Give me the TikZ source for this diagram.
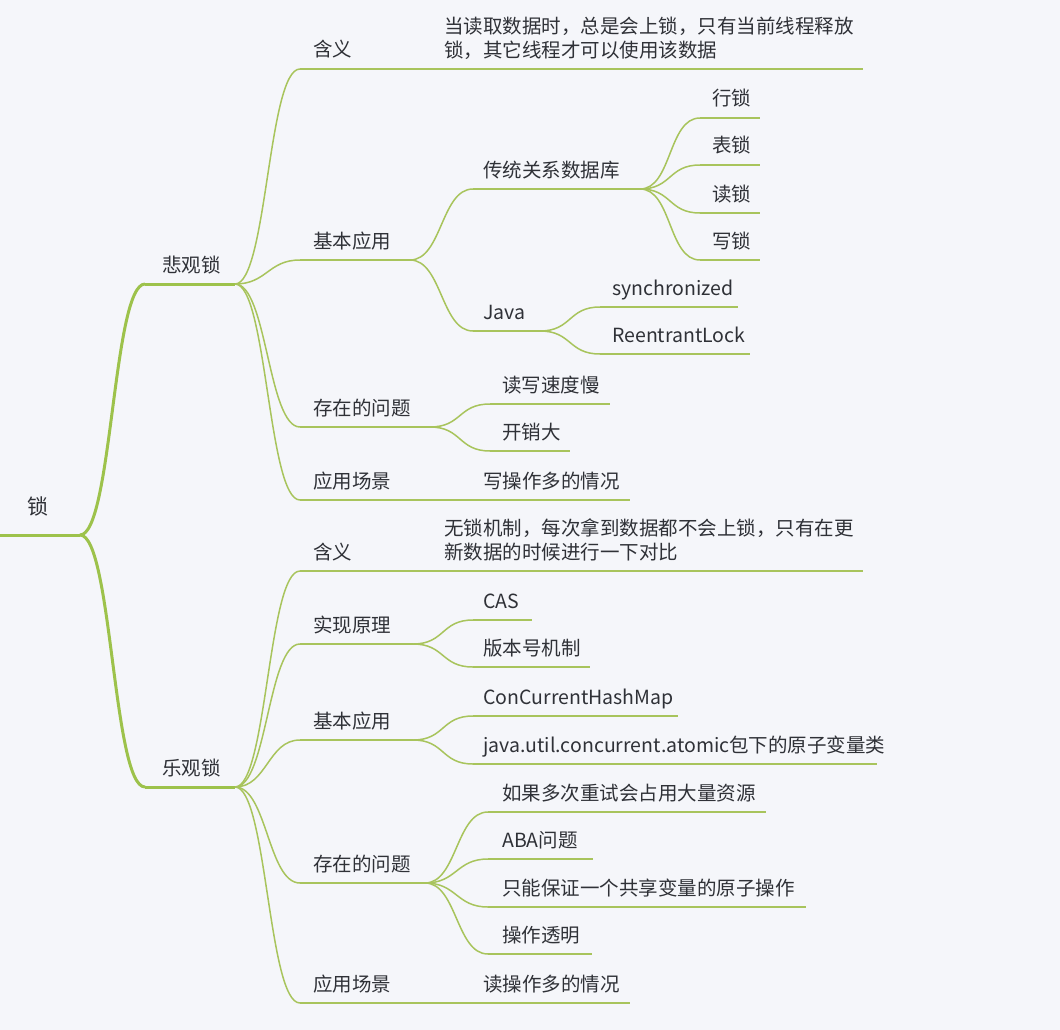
\documentclass[tikz,border=0pt]{standalone}
\usepackage{fontspec}
\setmainfont{Noto Sans CJK SC}
\definecolor{bg}{HTML}{F5F6FA}
\definecolor{ln}{HTML}{A8C45C}
\definecolor{lnb}{HTML}{9DC24B}
\definecolor{tx}{HTML}{2F3137}
\tikzset{
  lbl/.style={anchor=base west, inner sep=0pt, text=tx, font=\fontsize{19.5}{24}\selectfont},
  lbltwo/.style={anchor=west, inner sep=0pt, text=tx, align=left, font=\fontsize{19.5}{24}\selectfont},
  ul/.style={draw=ln, line width=1.5pt},
  ulb/.style={draw=lnb, line width=3pt},
}
\newcommand\topic[6]{%
  \coordinate (#1s) at (#2,#4);
  \coordinate (#1e) at (#3,#4);
  \draw[ul] (#1s) -- (#1e);
  \node[lbl] (#1) at (#5,#4-12) {#6};
}
\newcommand\conn[2]{\draw[ul] (#1e) .. controls +(32,0) and +(-32,0) .. (#2s);}
\newcommand\connb[2]{\draw[ulb] (#1e) .. controls +(32,0) and +(-32,0) .. (#2s);}
\begin{document}
\begin{tikzpicture}[x=1pt,y=-1pt]
\fill[bg] (0,0) rectangle (1060,1030);
\useasboundingbox (0,0) rectangle (1060,1030);

% root
\coordinate (Rs) at (0,535);
\coordinate (Re) at (80,535);
\draw[ulb] (Rs) -- (Re);
\node[lbl, font=\fontsize{21}{24}\selectfont] (R) at (27,514) {锁};

% level 1
\coordinate (As) at (145,284); \coordinate (Ae) at (235,284);
\draw[ulb] (As) -- (Ae);
\node[lbl] (A) at (162,272) {悲观锁};
\coordinate (Bs) at (145,787); \coordinate (Be) at (235,787);
\draw[ulb] (Bs) -- (Be);
\node[lbl] (B) at (162,775) {乐观锁};
\connb{R}{A}
\connb{R}{B}

% ---- 悲观锁 ----
\topic{A1}{300}{433}{69}{313}{含义}
\coordinate (A1as) at (433,69); \coordinate (A1ae) at (863,69);
\draw[ul] (A1as) -- (A1ae);
\node[lbltwo] (A1a) at (444,38) {当读取数据时，总是会上锁，只有当前线程释放\\锁，其它线程才可以使用该数据};
\conn{A}{A1}
\conn{A1}{A1a}

\topic{A2}{300}{410}{260}{313}{基本应用}
\conn{A}{A2}
\topic{A2a}{473}{640}{189}{483}{传统关系数据库}
\conn{A2}{A2a}
\topic{A2a1}{700}{760}{118}{712}{行锁}
\topic{A2a2}{700}{760}{165}{712}{表锁}
\topic{A2a3}{700}{760}{213}{712}{读锁}
\topic{A2a4}{700}{760}{260}{712}{写锁}
\conn{A2a}{A2a1}
\conn{A2a}{A2a2}
\conn{A2a}{A2a3}
\conn{A2a}{A2a4}
\topic{A2b}{473}{540}{331}{483}{Java}
\conn{A2}{A2b}
\topic{A2b1}{600}{738}{307}{612}{synchronized}
\topic{A2b2}{600}{750}{354}{612}{ReentrantLock}
\conn{A2b}{A2b1}
\conn{A2b}{A2b2}

\topic{A3}{300}{430}{427}{313}{存在的问题}
\conn{A}{A3}
\topic{A3a}{490}{610}{404}{502}{读写速度慢}
\topic{A3b}{490}{570}{451}{502}{开销大}
\conn{A3}{A3a}
\conn{A3}{A3b}

\topic{A4}{300}{470}{500}{313}{应用场景}
\conn{A}{A4}
\topic{A4a}{470}{630}{500}{483}{写操作多的情况}
\conn{A4}{A4a}

% ---- 乐观锁 ----
\topic{B1}{300}{433}{571}{313}{含义}
\coordinate (B1as) at (433,571); \coordinate (B1ae) at (863,571);
\draw[ul] (B1as) -- (B1ae);
\node[lbltwo] (B1a) at (444,540) {无锁机制，每次拿到数据都不会上锁，只有在更\\新数据的时候进行一下对比};
\conn{B}{B1}
\conn{B1}{B1a}

\topic{B2}{300}{413}{644}{313}{实现原理}
\conn{B}{B2}
\topic{B2a}{473}{532}{620}{483}{CAS}
\topic{B2b}{473}{590}{667}{483}{版本号机制}
\conn{B2}{B2a}
\conn{B2}{B2b}

\topic{B3}{300}{413}{740}{313}{基本应用}
\conn{B}{B3}
\topic{B3a}{473}{678}{716}{483}{ConCurrentHashMap}
\topic{B3b}{473}{877}{764}{483}{java.util.concurrent.atomic包下的原子变量类}
\conn{B3}{B3a}
\conn{B3}{B3b}

\topic{B4}{300}{425}{883}{313}{存在的问题}
\conn{B}{B4}
\topic{B4a}{488}{766}{812}{502}{如果多次重试会占用大量资源}
\topic{B4b}{488}{593}{859}{502}{ABA问题}
\topic{B4c}{488}{806}{907}{502}{只能保证一个共享变量的原子操作}
\topic{B4d}{488}{592}{954}{502}{操作透明}
\conn{B4}{B4a}
\conn{B4}{B4b}
\conn{B4}{B4c}
\conn{B4}{B4d}

\topic{B5}{300}{470}{1003}{313}{应用场景}
\conn{B}{B5}
\topic{B5a}{470}{630}{1003}{483}{读操作多的情况}
\conn{B5}{B5a}
\end{tikzpicture}
\end{document}
